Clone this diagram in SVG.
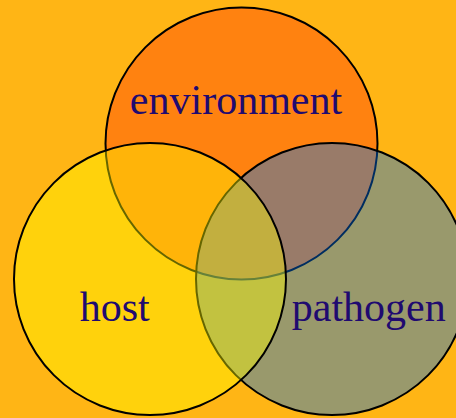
<svg xmlns="http://www.w3.org/2000/svg" width="456" height="418" viewBox="0 0 456 418">
  <style>
    .ring { stroke: #000000; stroke-width: 2; }
    .label { font-family: "Liberation Serif", "Times New Roman", serif; font-size: 42px; fill: #200A70; text-anchor: middle; }
  </style>
  <!-- background -->
  <rect x="0" y="0" width="456" height="418" fill="#FFB515"/>
  <!-- environment: opaque, lowest layer -->
  <g id="environment">
    <circle class="ring" cx="241.5" cy="143.5" r="136" fill="#FF8210"/>
  </g>
  <!-- pathogen: translucent blue over environment -->
  <g id="pathogen">
    <circle class="ring" cx="332" cy="279" r="136" fill="#0070F0" fill-opacity="0.4"/>
  </g>
  <!-- host: translucent yellow on top -->
  <g id="host">
    <circle class="ring" cx="150" cy="279" r="136" fill="#FFFF00" fill-opacity="0.4"/>
  </g>
  <g id="labels">
    <text class="label" x="236" y="114">environment</text>
    <text class="label" x="114.7" y="321">host</text>
    <text class="label" x="368.8" y="321">pathogen</text>
  </g>
  <g id="connectors"/>
</svg>
